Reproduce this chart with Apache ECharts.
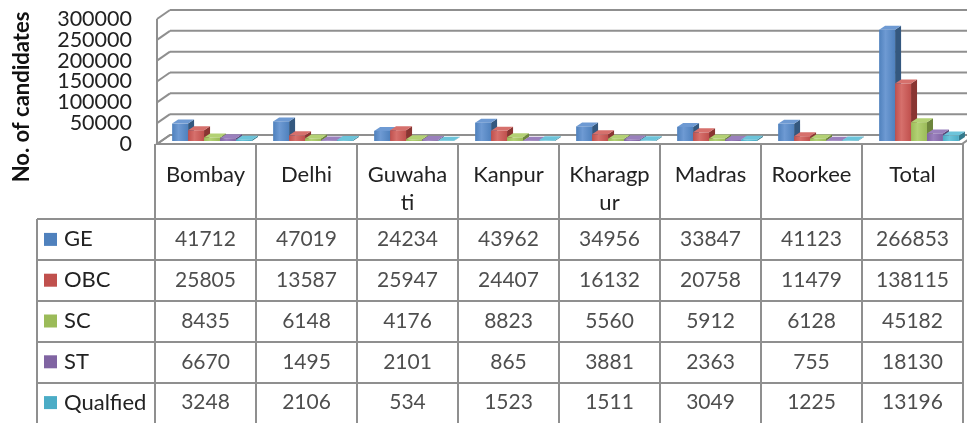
<!DOCTYPE html>
<html>
<head>
<meta charset="utf-8">
<script src="https://cdn.jsdelivr.net/npm/echarts@6/dist/echarts.min.js"></script>
<style>
  html, body { margin: 0; background: #fff; }
  #chart { width: 967px; height: 423px; }
</style>
</head>
<body>
<div id="chart"></div>
<script>
const categories = ['Bombay', 'Delhi', 'Guwahati', 'Kanpur', 'Kharagpur', 'Madras', 'Roorkee', 'Total']
const seriesNames = ['GE', 'OBC', 'SC', 'ST', 'Qualfied']
const GE = [41712, 47019, 24234, 43962, 34956, 33847, 41123, 266853]
const OBC = [25805, 13587, 25947, 24407, 16132, 20758, 11479, 138115]
const SC = [8435, 6148, 4176, 8823, 5560, 5912, 6128, 45182]
const ST = [6670, 1495, 2101, 865, 3881, 2363, 755, 18130]
const Qualfied = [3248, 2106, 534, 1523, 1511, 3049, 1225, 13196]
const yTicks = [0, 50000, 100000, 150000, 200000, 250000, 300000]

const seriesData = [GE, OBC, SC, ST, Qualfied]
const colors = ['#4f81bd', '#c0504d', '#9bbb59', '#8064a2', '#4bacc6']
const lightColors = ['#6e9ad3', '#d6706c', '#b3d174', '#9a80bd', '#6cc4da']
const darkColors = ['#34587f', '#893532', '#6d853c', '#5a4676', '#33798c']

const FONT = 'Lato, "Noto Sans", sans-serif'
const TEXT = '#222'
const GRID_L = 155
const GRID_R = 4
const GRID_TOP = 19
const FLOOR_Y = 144
const ROW_TOP = 219
const ROW_H = 41
const LEG_L = 37
const LINE = '#8f8f8f'

const chart = echarts.init(document.getElementById('chart'))

// 3D column: front face + top + right side
const barRenderer = (s) => (params, api) => {
  const ci = api.value(0)
  const v = api.value(1)
  const band = api.size([1, 0])[0]
  const c0 = api.coord([ci, 0])
  const c1 = api.coord([ci, v])
  const w = band * 0.158
  const x = c0[0] - band / 2 + band * 0.13 + s * w + 4
  const yb = c0[1] - 3
  const yt = c1[1] - 3
  const dx = 6, dy = 4
  return {
    type: 'group',
    children: [
      {
        type: 'polygon',
        shape: { points: [[x + w, yt], [x + w + dx, yt - dy], [x + w + dx, yb - dy], [x + w, yb]] },
        style: { fill: darkColors[s] }
      },
      {
        type: 'polygon',
        shape: { points: [[x, yt], [x + dx, yt - dy], [x + w + dx, yt - dy], [x + w, yt]] },
        style: { fill: lightColors[s] }
      },
      {
        type: 'rect',
        shape: { x: x, y: yt, width: w, height: Math.max(yb - yt, 0) },
        style: {
          fill: new echarts.graphic.LinearGradient(0, 0, 1, 0, [
            { offset: 0, color: colors[s] },
            { offset: 0.4, color: lightColors[s] },
            { offset: 1, color: colors[s] }
          ])
        }
      }
    ]
  }
}

// back wall gridlines, side wall, floor and the value labels
const wallRenderer = (params, api) => {
  const cs = params.coordSys
  const v = api.value(1)
  const y = api.coord([0, v])[1]
  const xl = cs.x + 2
  const xr = cs.x + cs.width
  const children = [
    { type: 'line', shape: { x1: xl, y1: y, x2: xl + 13, y2: y - 9 }, style: { stroke: LINE, lineWidth: 2 } },
    { type: 'line', shape: { x1: xl + 13, y1: y - 9, x2: xr + 40, y2: y - 9 }, style: { stroke: LINE, lineWidth: 2 } },
    {
      type: 'text',
      x: cs.x - 23,
      y: y,
      style: {
        text: String(v),
        align: 'right',
        verticalAlign: 'middle',
        fontFamily: FONT,
        fontSize: 21.5,
        fill: TEXT
      }
    }
  ]
  if (params.dataIndex === 0) {
    const yTop = api.coord([0, yTicks[yTicks.length - 1]])[1]
    children.unshift({
      type: 'polygon',
      shape: { points: [[xl, y], [xr - 1, y], [xr + 12, y - 9], [xl + 13, y - 9]] },
      style: { fill: '#fff', stroke: LINE, lineWidth: 2 }
    })
    children.push({ type: 'line', shape: { x1: xl, y1: yTop, x2: xl, y2: y }, style: { stroke: LINE, lineWidth: 2 } })
  }
  return { type: 'group', children }
}

// table borders
const tableLines = []
const colW = (967 - GRID_R - GRID_L) / categories.length
const tableBottom = ROW_TOP + ROW_H * seriesNames.length
for (let i = 0; i <= categories.length; i++) {
  const x = GRID_L + colW * i
  tableLines.push({ type: 'line', shape: { x1: x, y1: FLOOR_Y, x2: x, y2: tableBottom }, style: { stroke: LINE, lineWidth: 2 } })
}
tableLines.push({ type: 'line', shape: { x1: LEG_L, y1: ROW_TOP, x2: LEG_L, y2: tableBottom }, style: { stroke: LINE, lineWidth: 2 } })
for (let r = 0; r <= seriesNames.length; r++) {
  const y = ROW_TOP + ROW_H * r
  tableLines.push({ type: 'line', shape: { x1: LEG_L, y1: y, x2: 967 - GRID_R, y2: y }, style: { stroke: LINE, lineWidth: 2 } })
}

const series = [
  {
    name: 'wall',
    type: 'custom',
    xAxisIndex: 0,
    yAxisIndex: 0,
    renderItem: wallRenderer,
    data: yTicks.map(v => [0, v]),
    encode: { x: 0, y: 1 },
    silent: true,
    clip: false,
    z: 1
  }
]
seriesNames.forEach((name, s) => {
  series.push({
    name: name,
    type: 'custom',
    xAxisIndex: 0,
    yAxisIndex: 0,
    renderItem: barRenderer(s),
    itemStyle: { color: colors[s] },
    data: seriesData[s].map((v, i) => [i, v]),
    encode: { x: 0, y: 1 },
    z: 2
  })
})
// table cell values
seriesNames.forEach((name, s) => {
  series.push({
    name: name + ' table',
    type: 'scatter',
    xAxisIndex: 1,
    yAxisIndex: 1,
    symbolSize: 1,
    itemStyle: { color: 'rgba(0,0,0,0)' },
    silent: true,
    data: seriesData[s].map((v, i) => [i, s, v]),
    label: {
      show: true,
      position: 'inside',
      formatter: p => String(p.value[2]),
      fontFamily: FONT,
      fontSize: 21,
      color: TEXT
    }
  })
})

// legend keys live in the table's first column
const legendRich = { t: { fontFamily: FONT, fontSize: 22, color: TEXT, padding: [0, 0, 0, 7] } }
colors.forEach((c, i) => {
  legendRich['s' + i] = { width: 13, height: 13, backgroundColor: c }
})

const option = {
  backgroundColor: '#fff',
  animation: false,
  grid: [
    { left: GRID_L, right: GRID_R, top: GRID_TOP, bottom: 423 - FLOOR_Y },
    { left: GRID_L, right: GRID_R, top: ROW_TOP, height: ROW_H * seriesNames.length }
  ],
  xAxis: [
    {
      type: 'category',
      gridIndex: 0,
      data: categories,
      axisLine: { show: false },
      axisTick: { show: false },
      axisLabel: {
        interval: 0,
        margin: 17,
        width: 84,
        overflow: 'breakAll',
        lineHeight: 28,
        fontFamily: FONT,
        fontSize: 22,
        color: TEXT
      }
    },
    {
      type: 'category',
      gridIndex: 1,
      data: categories,
      show: false
    }
  ],
  yAxis: [
    {
      type: 'value',
      gridIndex: 0,
      min: 0,
      max: 300000,
      interval: 50000,
      axisLine: { show: false },
      axisTick: { show: false },
      splitLine: { show: false },
      axisLabel: { show: false }
    },
    {
      type: 'category',
      gridIndex: 1,
      data: seriesNames,
      inverse: true,
      axisLine: { show: false },
      axisTick: { show: false },
      splitLine: { show: false },
      axisLabel: {
        margin: GRID_L - 44,
        align: 'left',
        formatter: (v, i) => `{s${i}|}{t|${v}}`,
        rich: legendRich
      }
    }
  ],
  graphic: [
    {
      type: 'text',
      x: 22,
      y: 97,
      rotation: Math.PI / 2,
      style: {
        text: 'No. of candidates',
        textAlign: 'center',
        textVerticalAlign: 'middle',
        font: 'bold 22px ' + FONT,
        fill: '#111'
      }
    },
    ...tableLines
  ],
  series: series
}

chart.setOption(option)
window.addEventListener('resize', () => chart.resize())
</script>
</body>
</html>
